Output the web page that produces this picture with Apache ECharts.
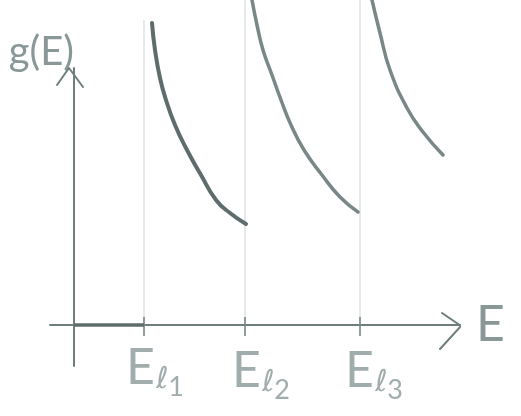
<!DOCTYPE html>
<html>
<head>
<meta charset="utf-8">
<title>g(E)</title>
<script src="https://cdn.jsdelivr.net/npm/echarts@6/dist/echarts.min.js"></script>
<style>
  html, body { margin: 0; padding: 0; background: #fff; }
  #chart { width: 521px; height: 416px; }
</style>
</head>
<body>
<div id="chart"></div>
<script>
// Values, origin of E and g(E) at the axes' crossing
const thresholds = [70, 171, 286];
const thresholdTops = [305, 340, 340];
const curve1 = [[78, 302], [81, 275], [86, 247], [92, 225], [101, 200], [113, 175], [127, 150], [142, 125], [156, 112], [172, 101]];
const curve2 = [[178, 325], [183, 300], [189, 275], [198, 250], [207, 225], [217, 200], [230, 175], [248, 150], [266, 128], [284, 113]];
const curve3 = [[298, 325], [306, 292], [316, 255], [333, 217], [349, 193], [369, 170]];
const labelNames = ["E{sub|ℓ}{num|1}", "E{sub|ℓ}{num|2}", "E{sub|ℓ}{num|3}"];
const labelPoints = [[81, -43], [187, -46], [300, -46]];
const yArrowHead = [[-17, 240], [-5, 257], [9, 238]];
const xArrowHead = [[368, 12], [387, -1], [366, -24]];

const pencil = "#6f7d7d";
const pencilLight = "#8a9797";
const guide = "#d3dadd";

const chart = echarts.init(document.getElementById("chart"));

const guideSeries = thresholds.map((x, i) => ({
    type: "line",
    data: [[x, 0], [x, thresholdTops[i]]],
    symbol: "none",
    silent: true,
    clip: false,
    lineStyle: { color: guide, width: 1.2 }
}));

const tickSeries = thresholds.map(x => ({
    type: "line",
    data: [[x, 0], [x, 8]],
    symbol: "none",
    silent: true,
    clip: false,
    lineStyle: { color: pencil, width: 1.5 }
}));

const curveSeries = [curve1, curve2, curve3].map((data, i) => ({
    type: "line",
    data: data,
    smooth: 0.5,
    symbol: "none",
    silent: true,
    clip: false,
    lineStyle: { color: i === 0 ? "#5f6c6c" : "#7a8787", width: i === 0 ? 4 : 3.5, cap: "round" }
}));

const arrowSeries = [yArrowHead, xArrowHead].map(data => ({
    type: "line",
    data: data,
    symbol: "none",
    silent: true,
    clip: false,
    lineStyle: { color: pencil, width: 2, cap: "round", join: "round" }
}));

chart.setOption({
    animation: false,
    backgroundColor: "#ffffff",
    grid: { left: 50, right: 61, top: 68, bottom: 50 },
    xAxis: {
        type: "value",
        min: -24,
        max: 386,
        splitLine: { show: false },
        name: "E",
        nameLocation: "end",
        nameGap: 16,
        nameTextStyle: { color: pencilLight, fontSize: 50, fontFamily: "Lato", fontWeight: 400, verticalAlign: "middle", padding: [8, 0, 0, 0] },
        axisLine: { onZero: true, lineStyle: { color: pencil, width: 2 } },
        axisTick: { show: true, length: 11, customValues: thresholds, lineStyle: { color: pencil, width: 1.5 } },
        axisLabel: { show: false }
    },
    yAxis: {
        type: "value",
        min: -41,
        max: 257,
        splitLine: { show: false },
        name: "g(E)",
        nameLocation: "end",
        nameGap: -4,
        nameTextStyle: { color: pencilLight, fontSize: 40, fontFamily: "Lato", fontWeight: 400, align: "right", padding: [0, 0, 0, 0] },
        axisLine: { onZero: true, lineStyle: { color: pencil, width: 2 } },
        axisTick: { show: false },
        axisLabel: { show: false }
    },
    series: [
        ...guideSeries,
        ...tickSeries,
        // thick part of the E axis before the first threshold
        {
            type: "line",
            data: [[0, 0], [70, 0]],
            symbol: "none",
            silent: true,
            lineStyle: { color: "#5f6c6c", width: 3.5 }
        },
        ...curveSeries,
        ...arrowSeries,
        {
            type: "scatter",
            symbolSize: 0,
            silent: true,
            clip: false,
            data: labelPoints.map((p, i) => ({
                value: p,
                label: {
                    show: true,
                    position: "inside",
                    formatter: labelNames[i],
                    color: pencilLight,
                    fontSize: 50,
                    fontFamily: "Lato",
                    fontWeight: 400,
                    rich: {
                        sub: { fontSize: 30, fontFamily: "DejaVu Sans", color: pencilLight, padding: [24, 0, 0, 1] },
                        num: { fontSize: 27, fontFamily: "Lato", color: pencilLight, padding: [38, 0, 0, 0] }
                    }
                }
            }))
        }
    ]
});
</script>
</body>
</html>
